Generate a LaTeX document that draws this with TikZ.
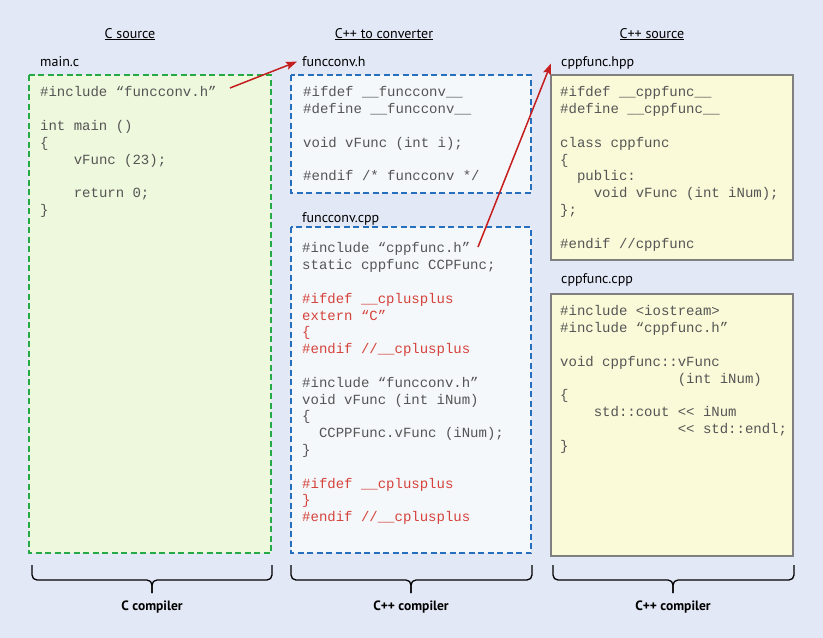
\documentclass[tikz,border=0pt]{standalone}
\usepackage{fontspec}
\setmainfont{PT Sans}
\setmonofont{Liberation Mono}
\usetikzlibrary{arrows.meta}

\definecolor{bgblue}{RGB}{227,232,247}
\definecolor{cfill}{RGB}{238,248,221}
\definecolor{cdash}{RGB}{38,170,72}
\definecolor{convfill}{RGB}{244,248,250}
\definecolor{convdash}{RGB}{38,110,190}
\definecolor{cppfill}{RGB}{250,249,216}
\definecolor{cppline}{RGB}{128,128,128}
\definecolor{codegray}{RGB}{85,85,85}
\definecolor{codered}{RGB}{214,66,60}
\definecolor{arrowred}{RGB}{196,30,30}

\newcommand{\sps}[1]{\hspace*{\dimexpr0.6em*#1\relax}}
\newcommand{\redcode}[1]{\textcolor{codered}{#1}}

\tikzset{
    code/.style={anchor=north west,inner sep=0pt,align=left,text=codegray,font=\ttfamily\fontsize{14}{16.8}\selectfont},
    fname/.style={anchor=base west,inner sep=0pt,font=\fontsize{14}{16}\selectfont},
    header/.style={anchor=base,inner sep=0pt,font=\fontsize{14}{16}\selectfont},
    compiler/.style={anchor=base,inner sep=0pt,font=\bfseries\fontsize{13.5}{16}\selectfont},
    cbox/.style={draw=cdash,fill=cfill,line width=1.7pt,dash pattern=on 6pt off 3.5pt},
    convbox/.style={draw=convdash,fill=convfill,line width=1.7pt,dash pattern=on 6pt off 3.5pt},
    cppbox/.style={draw=cppline,fill=cppfill,line width=1.8pt},
    redarrow/.style={draw=arrowred,line width=1.5pt,-{Stealth[length=11pt,width=8pt,inset=2pt]}},
    compbrace/.style={draw,line width=1.3pt,rounded corners=5pt}
}

\begin{document}
\begin{tikzpicture}[x=1pt,y=-1pt]
        \fill[bgblue] (0,0) rectangle (823,638);

        \node[header] (csrc) at (130,38) {\underline{C source}};
        \node[header] (convsrc) at (384,38) {\underline{C++ to converter}};
        \node[header] (cppsrc) at (652,38) {\underline{C++ source}};

        \draw[cbox] (29,75) rectangle (271,553);
        \draw[convbox] (291,75) rectangle (531,193);
        \draw[convbox] (291,227) rectangle (531,553);
        \draw[cppbox] (551,75) rectangle (793,260);
        \draw[cppbox] (551,294) rectangle (793,556);

        \node[fname] (mainlbl) at (40,66.5) {main.c};
        \node[fname] (convhlbl) at (302,66.5) {funcconv.h};
        \node[fname] (convcpplbl) at (302,222) {funcconv.cpp};
        \node[fname] (hpplbl) at (561,66) {cppfunc.hpp};
        \node[fname] (cpplbl) at (561,283) {cppfunc.cpp};

        \node[code] (maincode) at (40,86.5) {\#include “funcconv.h”\\[16.8pt]
            int main ()\\
            \{\\
            \sps{4}vFunc (23);\\[16.8pt]
            \sps{4}return 0;\\
            \}};

        \node[code] (convhcode) at (303,86.5) {\#ifdef \_\_funcconv\_\_\\
            \#define \_\_funcconv\_\_\\[16.8pt]
            void vFunc (int i);\\[16.8pt]
            \#endif /* funcconv */};

        \node[code] (convcppcode) at (302,242.5) {\#include “cppfunc.h”\\
            static cppfunc CCPFunc;\\[16.8pt]
            \redcode{\#ifdef \_\_cplusplus}\\
            \redcode{extern “C”}\\
            \redcode{\{}\\
            \redcode{\#endif //\_\_cplusplus}\\[16.8pt]
            \#include “funcconv.h”\\
            void vFunc (int iNum)\\
            \{\\
            \sps{2}CCPPFunc.vFunc (iNum);\\
            \}\\[16.8pt]
            \redcode{\#ifdef \_\_cplusplus}\\
            \redcode{\}}\\
            \redcode{\#endif //\_\_cplusplus}};

        \node[code] (hppcode) at (560,86.5) {\#ifdef \_\_cppfunc\_\_\\
            \#define \_\_cppfunc\_\_\\[16.8pt]
            class cppfunc\\
            \{\\
            \sps{2}public:\\
            \sps{4}void vFunc (int iNum);\\
            \};\\[16.8pt]
            \#endif //cppfunc};

        \node[code] (cppcode) at (560,305.5) {\#include <iostream>\\
            \#include “cppfunc.h”\\[16.8pt]
            void cppfunc::vFunc\\
            \sps{14}(int iNum)\\
            \{\\
            \sps{4}std::cout << iNum\\
            \sps{14}<< std::endl;\\
            \}};

        \coordinate (incconv) at (230,88);
        \coordinate (inccpp) at (478,247);
        \path[redarrow] (incconv) -- ([xshift=-5pt]convhlbl.west);
        \path[redarrow] (inccpp) -- ([xshift=-10pt,yshift=-1pt]hpplbl.west);

        \path[compbrace] (32,565) -- (32,580) -- (152,580) -- (152,593);
        \path[compbrace] (152,593) -- (152,580) -- (272,580) -- (272,565);
        \path[compbrace] (291,565) -- (291,580) -- (411,580) -- (411,593);
        \path[compbrace] (411,593) -- (411,580) -- (532,580) -- (532,565);
        \path[compbrace] (553,565) -- (553,580) -- (673,580) -- (673,593);
        \path[compbrace] (673,593) -- (673,580) -- (794,580) -- (794,565);

        \node[compiler] (ccomp) at (152,610) {C compiler};
        \node[compiler] (convcomp) at (411,610) {C++ compiler};
        \node[compiler] (cppcomp) at (673,610) {C++ compiler};
\end{tikzpicture}
\end{document}
